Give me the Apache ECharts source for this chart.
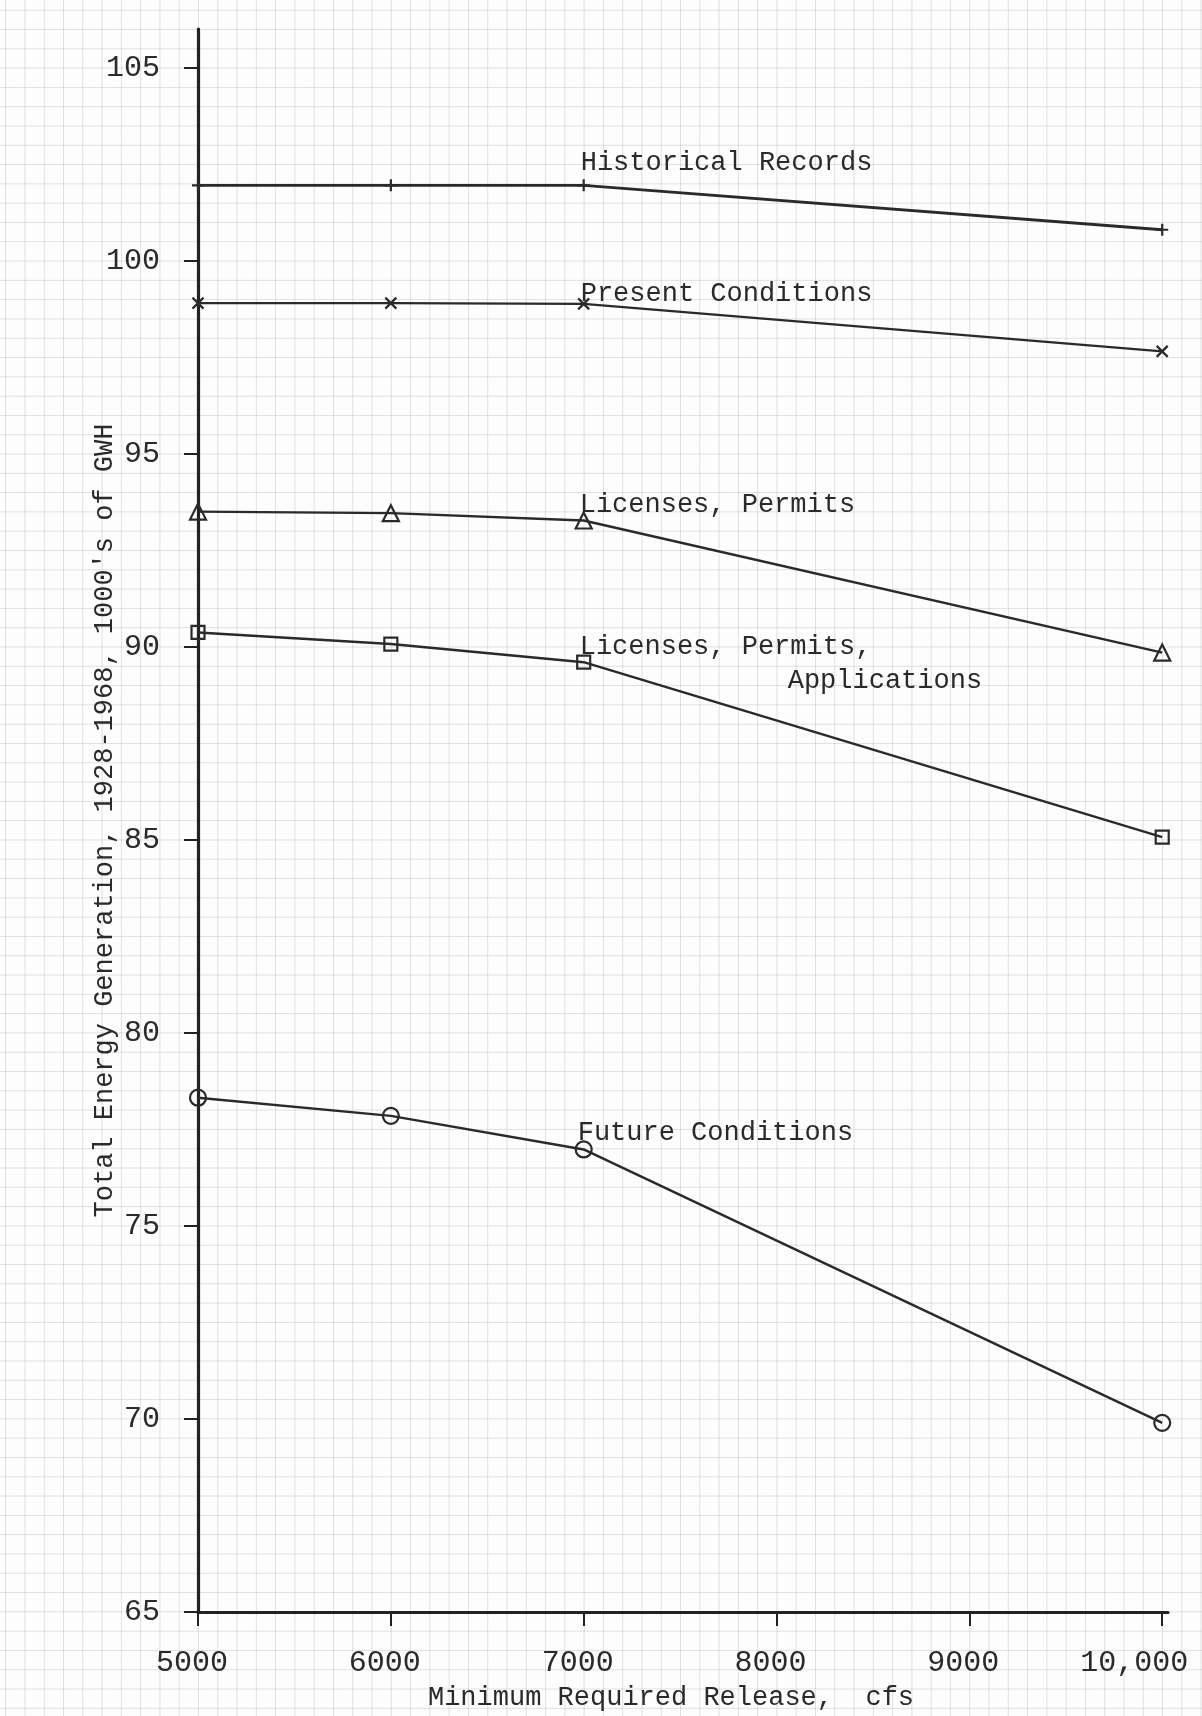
<!DOCTYPE html>
<html>
<head>
<meta charset="utf-8">
<script src="https://cdn.jsdelivr.net/npm/echarts@6/dist/echarts.min.js"></script>
<style>
  html, body { margin: 0; padding: 0; }
  body {
    width: 1202px; height: 1716px; background-color: #fdfdfd;
    background-image:
      linear-gradient(to right, rgba(120,120,120,0.22) 1px, transparent 1px),
      linear-gradient(to bottom, rgba(120,120,120,0.22) 1px, transparent 1px);
    background-size: 19.284px 19.305px;
    background-position: 198px 29px;
  }
  #chart { width: 1202px; height: 1716px; }
</style>
</head>
<body>
<div id="chart"></div>
<script>
// ---- data ----
const releases = [5000, 6000, 7000, 10000];
const historicalRecords = [101.95, 101.95, 101.95, 100.8];
const presentConditions = [98.9, 98.9, 98.88, 97.65];
const licensesPermits = [93.5, 93.46, 93.27, 89.85];
const licensesPermitsApplications = [90.37, 90.07, 89.6, 85.07];
const futureConditions = [78.32, 77.85, 76.98, 69.9];
const xTickValues = [5000, 6000, 7000, 8000, 9000, 10000];
const xTickLabels = ['5000', '6000', '7000', '8000', '9000', '10,000'];
const yTickValues = [65, 70, 75, 80, 85, 90, 95, 100, 105];

// ---- layout / style ----
const FONT = '"Liberation Mono", "DejaVu Sans Mono", monospace';
const INK = '#2a2a2a';
const pairs = (ys) => releases.map((x, i) => [x, ys[i]]);

const seriesDefs = [
  { name: 'Historical Records', data: historicalRecords, symbol: 'path://M0,-1 L0,1 M-1,0 L1,0', size: 12, width: 2.8 },
  { name: 'Present Conditions', data: presentConditions, symbol: 'path://M-1,-1 L1,1 M-1,1 L1,-1', size: 11, width: 2.2 },
  { name: 'Licenses, Permits', data: licensesPermits, symbol: 'triangle', size: 16, width: 2.4 },
  { name: 'Licenses, Permits, Applications', data: licensesPermitsApplications, symbol: 'rect', size: 13, width: 2.4 },
  { name: 'Future Conditions', data: futureConditions, symbol: 'circle', size: 16, width: 2.4 }
];

// annotation text: anchored on the 7000 cfs point of a series, with pixel offsets
const annotations = [
  { text: 'Historical Records', series: 0, dx: -3, dy: -23 },
  { text: 'Present Conditions', series: 1, dx: -3, dy: -10 },
  { text: 'Licenses, Permits', series: 2, dx: -4, dy: -16 },
  { text: 'Licenses, Permits,', series: 3, dx: -4, dy: -15 },
  { text: 'Applications', series: 3, dx: 204, dy: 19 },
  { text: 'Future Conditions', series: 4, dx: -6, dy: -17 }
];

const chart = echarts.init(document.getElementById('chart'), null, { renderer: 'canvas' });

const option = {
  backgroundColor: 'transparent',
  animation: false,
  grid: { left: 198, right: 34, top: 29, bottom: 104, containLabel: false },
  xAxis: {
    type: 'value', min: 5000, max: 10030,
    name: 'Minimum Required Release,  cfs', nameLocation: 'middle', nameGap: 72, nameMoveOverlap: false,
    nameTextStyle: { fontFamily: FONT, fontSize: 27, color: INK, padding: [0, 24, 0, 0] },
    axisLine: { show: true, onZero: false, lineStyle: { color: '#222', width: 3.2 } },
    axisTick: { show: true, length: 14, customValues: xTickValues, lineStyle: { color: '#222', width: 2 } },
    axisLabel: {
      customValues: xTickValues, margin: 36, fontFamily: FONT, fontSize: 30, color: INK,
      formatter: (v) => {
        const t = xTickLabels[xTickValues.indexOf(v)];
        return v === 10000 ? '{w|' + t + '}' : '{n|' + t + '}';
      },
      rich: {
        n: { fontFamily: FONT, fontSize: 30, color: INK, padding: [0, 12, 0, 0] },
        w: { fontFamily: FONT, fontSize: 30, color: INK, padding: [0, 56, 0, 0] }
      }
    },
    splitLine: { show: false }
  },
  yAxis: {
    type: 'value', min: 65, max: 106,
    name: "Total Energy Generation, 1928-1968, 1000's of GWH", nameLocation: 'middle', nameGap: 80, nameRotate: 90,
    nameMoveOverlap: false,
    nameTextStyle: { fontFamily: FONT, fontSize: 27, color: INK },
    axisLine: { show: true, onZero: false, lineStyle: { color: '#222', width: 3.2 } },
    axisTick: { show: true, length: 14, customValues: yTickValues, lineStyle: { color: '#222', width: 2 } },
    axisLabel: { customValues: yTickValues, margin: 38, fontFamily: FONT, fontSize: 30, color: INK },
    splitLine: { show: false }
  },
  series: seriesDefs.map((s) => ({
    type: 'line', name: s.name, data: pairs(s.data),
    symbol: s.symbol, symbolSize: s.size, showAllSymbol: true,
    lineStyle: { color: INK, width: s.width },
    itemStyle: { color: 'rgba(255,255,255,0)', borderColor: INK, borderWidth: 2.2 },
    emphasis: { disabled: true }, z: 3
  }))
};
chart.setOption(option);

const graphics = annotations.map((a) => {
  const ys = seriesDefs[a.series].data;
  const p = chart.convertToPixel({ gridIndex: 0 }, [releases[2], ys[2]]);
  return {
    type: 'text', x: p[0] + a.dx, y: p[1] + a.dy, z: 10,
    style: { text: a.text, font: '27px ' + FONT, fill: INK, align: 'left', verticalAlign: 'middle' }
  };
});
chart.setOption({ graphic: graphics });
</script>
</body>
</html>
